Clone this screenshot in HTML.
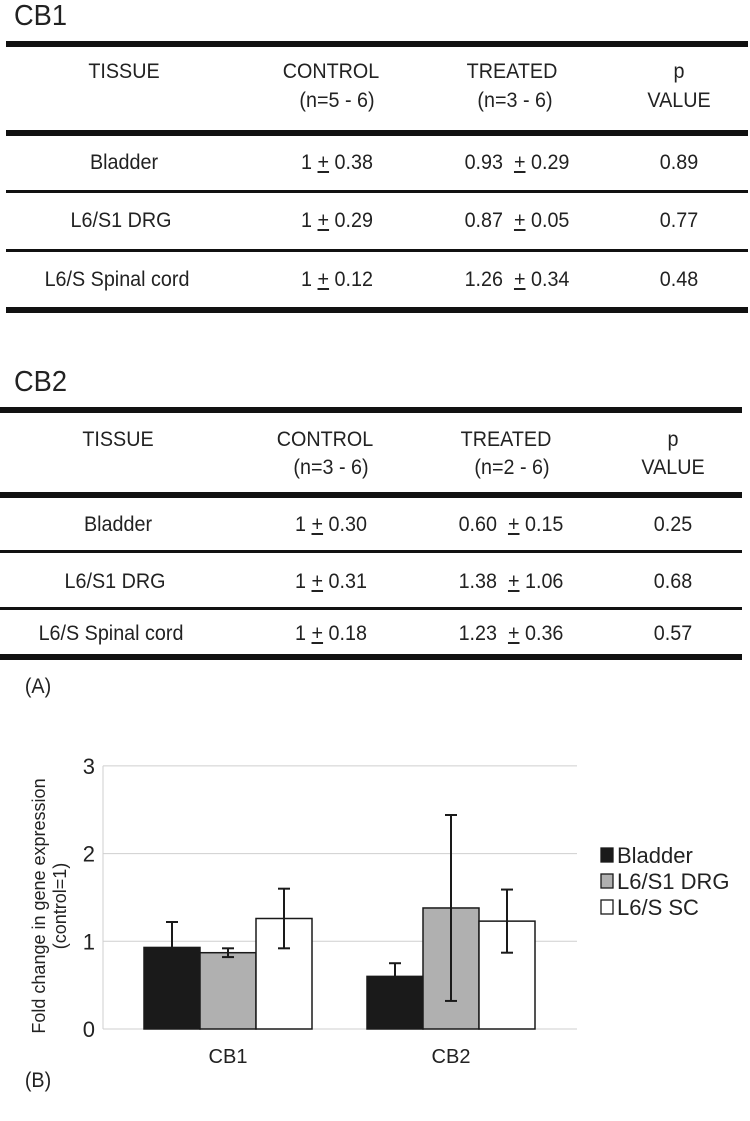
<!DOCTYPE html>
<html><head><meta charset="utf-8"><style>
body{margin:0;width:750px;height:1121px;background:#fff;position:relative;overflow:hidden;font-family:"Liberation Sans",sans-serif;color:#222}
.t{position:absolute;font-size:21px;white-space:nowrap;transform:translate(-50%,-50%) scaleX(0.94)}
.h{position:absolute;font-size:29px;left:14px;transform:scaleX(0.94);transform-origin:left}
.thick{position:absolute;left:6px;width:742px;height:6px;background:#111}
.thin{position:absolute;left:6px;width:742px;height:3px;background:#111}
u{text-decoration:underline}
</style></head><body>
<div class="h" style="top:0px">CB1</div>
<div class="thick" style="top:41px"></div>
<div class="t" style="left:124px;top:72px">TISSUE</div>
<div class="t" style="left:331px;top:72px">CONTROL</div>
<div class="t" style="left:337px;top:101px">(n=5 - 6)</div>
<div class="t" style="left:512px;top:72px">TREATED</div>
<div class="t" style="left:515px;top:101px">(n=3 - 6)</div>
<div class="t" style="left:679px;top:72px">p</div>
<div class="t" style="left:679px;top:101px">VALUE</div>
<div class="thick" style="top:130px"></div>
<div class="t" style="left:124px;top:163px">Bladder</div>
<div class="t" style="left:337px;top:163px">1 <u>+</u> 0.38</div>
<div class="t" style="left:517px;top:163px">0.93&nbsp; <u>+</u> 0.29</div>
<div class="t" style="left:679px;top:163px">0.89</div>
<div class="thin" style="top:190px"></div>
<div class="t" style="left:121px;top:221px">L6/S1 DRG</div>
<div class="t" style="left:337px;top:221px">1 <u>+</u> 0.29</div>
<div class="t" style="left:517px;top:221px">0.87&nbsp; <u>+</u> 0.05</div>
<div class="t" style="left:679px;top:221px">0.77</div>
<div class="thin" style="top:249px"></div>
<div class="t" style="left:117px;top:280px">L6/S Spinal cord</div>
<div class="t" style="left:337px;top:280px">1 <u>+</u> 0.12</div>
<div class="t" style="left:517px;top:280px">1.26&nbsp; <u>+</u> 0.34</div>
<div class="t" style="left:679px;top:280px">0.48</div>
<div class="thick" style="top:307px"></div>

<div class="h" style="top:366px">CB2</div>
<div class="thick" style="top:407px;left:0;width:742px"></div>
<div class="t" style="left:118px;top:440px">TISSUE</div>
<div class="t" style="left:325px;top:440px">CONTROL</div>
<div class="t" style="left:331px;top:468px">(n=3 - 6)</div>
<div class="t" style="left:506px;top:440px">TREATED</div>
<div class="t" style="left:512px;top:468px">(n=2 - 6)</div>
<div class="t" style="left:673px;top:440px">p</div>
<div class="t" style="left:673px;top:468px">VALUE</div>
<div class="thick" style="top:492px;left:0;width:742px"></div>
<div class="t" style="left:118px;top:525px">Bladder</div>
<div class="t" style="left:331px;top:525px">1 <u>+</u> 0.30</div>
<div class="t" style="left:511px;top:525px">0.60&nbsp; <u>+</u> 0.15</div>
<div class="t" style="left:673px;top:525px">0.25</div>
<div class="thin" style="top:550px;left:0;width:742px"></div>
<div class="t" style="left:115px;top:582px">L6/S1 DRG</div>
<div class="t" style="left:331px;top:582px">1 <u>+</u> 0.31</div>
<div class="t" style="left:511px;top:582px">1.38&nbsp; <u>+</u> 1.06</div>
<div class="t" style="left:673px;top:582px">0.68</div>
<div class="thin" style="top:607px;left:0;width:742px"></div>
<div class="t" style="left:111px;top:634px">L6/S Spinal cord</div>
<div class="t" style="left:331px;top:634px">1 <u>+</u> 0.18</div>
<div class="t" style="left:511px;top:634px">1.23&nbsp; <u>+</u> 0.36</div>
<div class="t" style="left:673px;top:634px">0.57</div>
<div class="thick" style="top:654px;left:0;width:742px"></div>
<div class="t" style="left:38px;top:687px">(A)</div>
<div class="t" style="left:38px;top:1081px">(B)</div>

<svg id="chart" width="750" height="1121" style="position:absolute;left:0;top:0" font-family="Liberation Sans, sans-serif"></svg>
<script>
const categories=["CB1","CB2"];
const seriesNames=["Bladder","L6/S1 DRG","L6/S SC"];
const bladder=[0.93,0.60];
const bladderErr=[0.29,0.15];
const drg=[0.87,1.38];
const drgErr=[0.05,1.06];
const sc=[1.26,1.23];
const scErr=[0.34,0.36];
const yTicks=[0,1,2,3];
const colors=["#1a1a1a","#b0b0b0","#ffffff"];
const vals=[bladder,drg,sc], errs=[bladderErr,drgErr,scErr];
const NS="http://www.w3.org/2000/svg", svg=document.getElementById('chart');
const x0=103,x1=577,y0=1029,ppu=87.7;
const Y=v=>y0-v*ppu;
const mid=339.5, groupStep=223, barW=56;
const X=i=>mid+(i-(categories.length-1)/2)*groupStep;
function mk(t,a,p){const e=document.createElementNS(NS,t);for(const k in a)e.setAttribute(k,a[k]);(p||svg).appendChild(e);return e;}
yTicks.forEach(t=>{
  const l=mk('line',{x1:x0,x2:x1,y1:Y(t),y2:Y(t),stroke:'#cfcfcf','stroke-width':1});
  
  
  const tx=mk('text',{x:x0-8,y:Y(t)+8,'text-anchor':'end','font-size':22,fill:'#222'});tx.textContent=t;
  
  
});
const ax=mk('line',{x1:x0,x2:x0,y1:Y(3),y2:y0,stroke:'#cfcfcf'});


categories.forEach((c,i)=>{
  const gx=X(i);
  vals.forEach((s,j)=>{
    const bx=gx-1.5*barW+j*barW;
    const r=mk('rect',{x:bx,y:Y(s[i]),width:barW,height:y0-Y(s[i]),fill:colors[j],stroke:'#1a1a1a','stroke-width':1.5});
    
    
    const cx=bx+barW/2,hi=Y(s[i]+errs[j][i]),lo=Y(s[i]-errs[j][i]);
    const g=mk('g',{stroke:'#1a1a1a','stroke-width':2,fill:'none'});
    
    
    mk('line',{x1:cx,x2:cx,y1:hi,y2:lo},g);
    mk('line',{x1:cx-6,x2:cx+6,y1:hi,y2:hi},g);
    mk('line',{x1:cx-6,x2:cx+6,y1:lo,y2:lo},g);
  });
  const t=mk('text',{x:gx,y:y0+34,'text-anchor':'middle','font-size':20,fill:'#222'});t.textContent=c;
  
  
});
const yt=mk('text',{transform:'translate(49,906) rotate(-90)','text-anchor':'middle','font-size':18,fill:'#222'});


const ts1=mk('tspan',{x:0,dy:-4},yt);ts1.textContent='Fold change in gene expression';
const ts2=mk('tspan',{x:0,dy:21},yt);ts2.textContent='(control=1)';
seriesNames.forEach((n,j)=>{
  const ly=855+j*26;
  const r=mk('rect',{x:601,y:ly-7,width:12,height:14,fill:colors[j],stroke:'#1a1a1a','stroke-width':1.3});
  
  
  const t=mk('text',{x:617,y:ly+8,'font-size':22,fill:'#222'});t.textContent=n;
  
  
});
</script>
</body></html>
